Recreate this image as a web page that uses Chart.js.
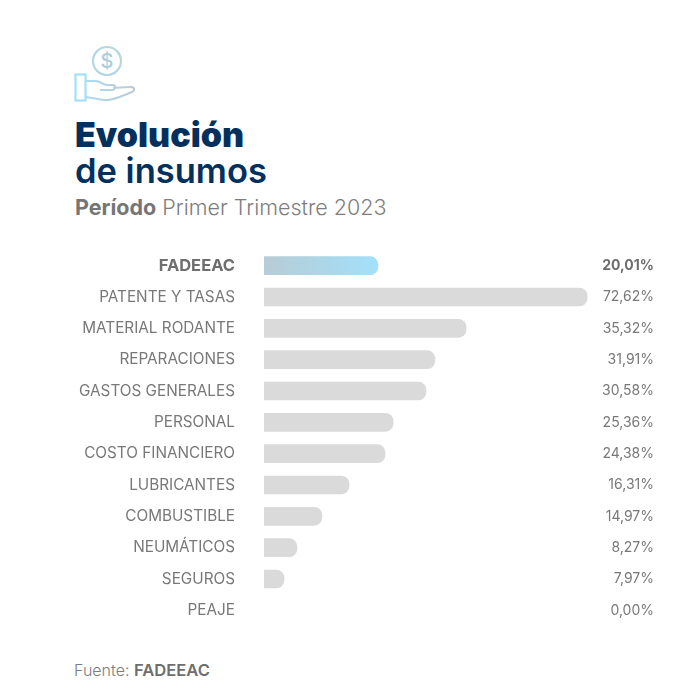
<!DOCTYPE html>
<html lang="es">
<head>
<meta charset="utf-8">
<title>Evolución de insumos</title>
<script src="https://cdn.jsdelivr.net/npm/chart.js@4/dist/chart.umd.min.js"></script>
<style>
    html, body { margin: 0; padding: 0; background: #fff; }
    body { width: 691px; height: 691px; position: relative; overflow: hidden; font-family: Inter, sans-serif; }
    #icon { position: absolute; left: 70px; top: 42px; }
    .txt { position: absolute; left: 75px; white-space: nowrap; }
    #t1 { top: 115px; font-size: 34px; line-height: 40px; font-weight: 900; color: #03305d; }
    #t2 { top: 151px; font-size: 34.5px; line-height: 40px; font-weight: 600; color: #03305d; }
    #sub { top: 194px; font-size: 21.5px; line-height: 26px; color: #7d7d7d; font-weight: 300; }
    #sub b { font-weight: 700; color: #757575; }
    #src { left: 74px; top: 660px; font-size: 16px; line-height: 20px; color: #7d7d7d; font-weight: 300; }
    #src b { font-size: 16.6px; font-weight: 600; color: #6e6e6e; }
    #wrap { position: absolute; left: 0; top: 250px; width: 691px; height: 376px; }
</style>
</head>
<body>
<svg id="icon" width="70" height="64" viewBox="70 42 70 64" fill="none">
    <defs>
        <linearGradient id="hand" x1="75" x2="135" y1="0" y2="0" gradientUnits="userSpaceOnUse">
            <stop offset="0" stop-color="#a6e0f8"/><stop offset="1" stop-color="#bdccd3"/>
        </linearGradient>
    </defs>
    <circle cx="107" cy="61" r="14" stroke="#b6d6e4" stroke-width="2.2"/>
    <text x="107" y="68" text-anchor="middle" font-family="Inter" font-size="20" font-weight="500" fill="#a9cddd">$</text>
    <rect x="75.5" y="74.5" width="10" height="26" stroke="#a6e0f8" stroke-width="2.2"/>
    <path d="M86 81 L96 81 C100 81 103 85 107 85 L113 85 C116 85 116 90 112 90 L100 90 M113 88 L129 87 C134 86 136 90 132 92 C122 96 112 101 104 100 L86 97" stroke="url(#hand)" stroke-width="2.2" stroke-linejoin="round"/>
</svg>
<div class="txt" id="t1">Evolución</div>
<div class="txt" id="t2">de insumos</div>
<div class="txt" id="sub"><b>Período</b> Primer Trimestre 2023</div>
<div id="wrap"><canvas id="chart"></canvas></div>
<div class="txt" id="src">Fuente: <b>FADEEAC</b></div>
<script>
const categories = ['FADEEAC', 'PATENTE Y TASAS', 'MATERIAL RODANTE', 'REPARACIONES', 'GASTOS GENERALES', 'PERSONAL', 'COSTO FINANCIERO', 'LUBRICANTES', 'COMBUSTIBLE', 'NEUMÁTICOS', 'SEGUROS', 'PEAJE'];
// printed percentages
const percentLabels = ['20,01%', '72,62%', '35,32%', '31,91%', '30,58%', '25,36%', '24,38%', '16,31%', '14,97%', '8,27%', '7,97%', '0,00%'];
// bar lengths as drawn in the picture, they do not follow the printed numbers
const barLengths = [25.6, 72.62, 45.4, 38.4, 36.4, 29, 27.2, 19.1, 13, 7.4, 4.5, 0];

const tickColor = (ctx) => ctx.index === 0 ? '#6e6e6e' : '#787878';

// fixed axis width, and no extra room above and below the rows
const fitAxis = (width) => (axis) => {
    axis.width = width;
    axis.paddingTop = 0;
    axis.paddingBottom = 0;
};

new Chart(document.getElementById('chart'), {
    type: 'bar',
    data: {
        labels: categories,
        datasets: [{
            data: barLengths,
            barThickness: 18,
            borderRadius: { topRight: 8, bottomRight: 8 },
            backgroundColor: (ctx) => {
                if (barLengths[ctx.dataIndex] === 0) return 'transparent';
                if (ctx.dataIndex !== 0) return '#dadada';
                const x = ctx.chart.scales.x;
                const x0 = x.getPixelForValue(0);
                const x1 = x.getPixelForValue(barLengths[0]);
                if (!Number.isFinite(x0) || !Number.isFinite(x1)) return '#a2e0fa';
                const g = ctx.chart.ctx.createLinearGradient(x0, 0, x1, 0);
                g.addColorStop(0, '#b8ccd5');
                g.addColorStop(1, '#a2e0fa');
                return g;
            }
        }]
    },
    options: {
        indexAxis: 'y',
        responsive: true,
        maintainAspectRatio: false,
        animation: false,
        layout: { padding: { top: 0, right: 37, bottom: 0, left: 0 } },
        plugins: { legend: { display: false }, tooltip: { enabled: false } },
        scales: {
            x: { display: false, min: 0, max: 75.5 },
            y: {
                afterFit: fitAxis(264),
                grid: { display: false, drawTicks: false },
                border: { display: false },
                ticks: {
                    padding: 29,
                    font: (ctx) => ctx.index === 0
                        ? { family: 'Inter', size: 16.5, weight: '700' }
                        : { family: 'Inter', size: 15.3, weight: '400' },
                    color: tickColor,
                    autoSkip: false
                }
            },
            y1: {
                type: 'category',
                position: 'right',
                offset: true,
                labels: percentLabels,
                afterFit: fitAxis(54),
                grid: { display: false, drawTicks: false },
                border: { display: false },
                ticks: {
                    crossAlign: 'far',
                    font: (ctx) => ({ family: 'Inter', size: 14, weight: ctx.index === 0 ? '700' : '400' }),
                    color: tickColor,
                    autoSkip: false
                }
            }
        }
    }
});
</script>
</body>
</html>
